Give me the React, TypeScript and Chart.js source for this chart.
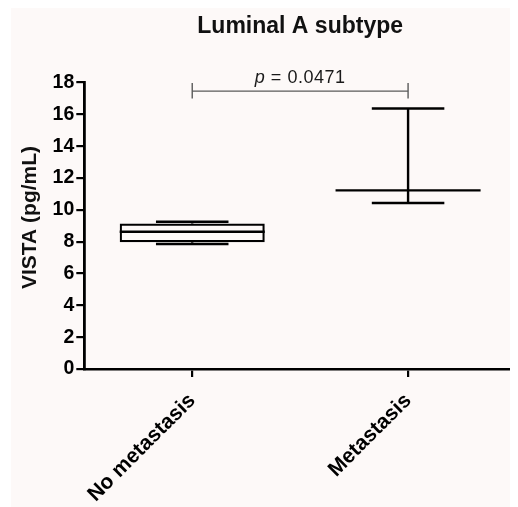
import React, { useEffect, useRef } from "react";
import { Chart, registerables } from "chart.js";

Chart.register(...registerables);

const categories = ["No metastasis", "Metastasis"];
const whiskerMin = [7.85, 10.43];
const boxQ1 = [7.96, 11.22];
const medians = [8.62, 11.22];
const boxQ3 = [9.14, 11.22];
const whiskerMax = [9.25, 16.37];
const yMin = 0;
const yMax = 18;
const yStep = 2;
const chartTitle = "Luminal A subtype";
const yAxisTitle = "VISTA (pg/mL)";
const pLabel = "p";
const pValueText = " = 0.0471";
const bracketLevel = 17.46;
const bracketPair = [0, 1];

const FONT = "'Liberation Sans', Arial, Helvetica, sans-serif";

const boxPlugin = {
  id: "boxOverlay",
  afterDatasetsDraw(chart: any) {
    const { ctx } = chart;
    const x = chart.scales.x;
    const y = chart.scales.y;
    const meta = chart.getDatasetMeta(0);
    const line = (x1: number, y1: number, x2: number, y2: number) => {
      ctx.beginPath();
      ctx.moveTo(x1, y1);
      ctx.lineTo(x2, y2);
      ctx.stroke();
    };
    ctx.save();
    ctx.strokeStyle = "#000";
    ctx.lineCap = "butt";
    categories.forEach((_, i) => {
      const cx = x.getPixelForValue(i);
      const half = meta.data[i].width / 2;
      const capHalf = half / 2;
      ctx.lineWidth = 2.4;
      line(cx - half, y.getPixelForValue(medians[i]), cx + half, y.getPixelForValue(medians[i]));
      line(cx, y.getPixelForValue(boxQ3[i]), cx, y.getPixelForValue(whiskerMax[i]));
      line(cx, y.getPixelForValue(boxQ1[i]), cx, y.getPixelForValue(whiskerMin[i]));
      ctx.lineWidth = 2.6;
      line(cx - capHalf, y.getPixelForValue(whiskerMax[i]), cx + capHalf, y.getPixelForValue(whiskerMax[i]));
      line(cx - capHalf, y.getPixelForValue(whiskerMin[i]), cx + capHalf, y.getPixelForValue(whiskerMin[i]));
    });

    // significance bracket
    const bx1 = x.getPixelForValue(bracketPair[0]);
    const bx2 = x.getPixelForValue(bracketPair[1]);
    const by = y.getPixelForValue(bracketLevel);
    ctx.strokeStyle = "#5a5a5a";
    ctx.lineWidth = 1.4;
    line(bx1, by, bx2, by);
    line(bx1, by - 8, bx1, by + 7.5);
    line(bx2, by - 8, bx2, by + 7.5);

    ctx.fillStyle = "#1a1a1a";
    ctx.textBaseline = "alphabetic";
    ctx.textAlign = "left";
    (ctx as any).letterSpacing = "0.5px";
    ctx.font = `italic 18px ${FONT}`;
    const pW = ctx.measureText(pLabel).width;
    ctx.font = `18px ${FONT}`;
    const rW = ctx.measureText(pValueText).width;
    const start = (bx1 + bx2) / 2 - (pW + rW) / 2;
    ctx.font = `italic 18px ${FONT}`;
    ctx.fillText(pLabel, start, by - 8.3);
    ctx.font = `18px ${FONT}`;
    ctx.fillText(pValueText, start + pW, by - 8.3);
    ctx.restore();
  },
  afterDraw(chart: any) {
    const { ctx, chartArea } = chart;
    ctx.save();
    ctx.fillStyle = "#111";
    ctx.textAlign = "center";
    ctx.textBaseline = "alphabetic";
    ctx.font = `bold 23px ${FONT}`;
    ctx.fillText(chartTitle, (chartArea.left + chartArea.right) / 2, 24.5);
    ctx.translate(25, 209.5);
    ctx.rotate(-Math.PI / 2);
    ctx.font = `bold 21px ${FONT}`;
    ctx.fillText(yAxisTitle, 0, 0);
    ctx.restore();
  },
};

export default function App() {
  const ref = useRef<HTMLCanvasElement | null>(null);

  useEffect(() => {
    if (!ref.current) return;
    const chart = new Chart(ref.current, {
      type: "bar",
      data: {
        labels: categories,
        datasets: [
          {
            data: categories.map((_, i) => [boxQ1[i], boxQ3[i]]) as any,
            backgroundColor: "rgba(0,0,0,0)",
            borderColor: "#000",
            borderWidth: 2.2,
            borderSkipped: false,
            barPercentage: 0.672,
            categoryPercentage: 1,
          },
        ],
      },
      options: {
        animation: false,
        responsive: false,
        devicePixelRatio: 1,
        layout: { padding: { top: 74.5, right: 2, left: 0, bottom: 0 } },
        plugins: {
          legend: { display: false },
          tooltip: { enabled: false },
          title: { display: false },
        },
        scales: {
          x: {
            offset: true,
            border: { display: true, color: "#000", width: 2.6 },
            grid: {
              offset: false,
              drawOnChartArea: false,
              drawTicks: true,
              tickLength: 8,
              color: "#000",
              lineWidth: 2.2,
            },
            ticks: {
              autoSkip: false,
              minRotation: 45,
              maxRotation: 45,
              padding: 11.5,
              color: "#000",
              font: { family: FONT, size: 21, weight: "bold" },
            },
            afterFit: (s: any) => {
              s.height = 138;
              s.paddingLeft = 0;
              s.paddingRight = 0;
            },
          },
          y: {
            min: yMin,
            max: yMax,
            border: { display: true, color: "#000", width: 2.8 },
            grid: {
              drawOnChartArea: false,
              drawTicks: true,
              tickLength: 8,
              color: "#000",
              lineWidth: 2.2,
            },
            ticks: {
              stepSize: yStep,
              padding: 2,
              color: "#000",
              font: { family: FONT, size: 19.5, weight: "bold" },
            },
            afterFit: (s: any) => {
              s.width = 73.3;
              s.paddingTop = 0;
              s.paddingBottom = 0;
            },
          },
        },
      },
      plugins: [boxPlugin],
    });
    return () => chart.destroy();
  }, []);

  return (
    <div style={{ marginLeft: 3, width: 507, height: 499, background: "#fdf9f8" }}>
      <canvas ref={ref} width={507} height={499} style={{ display: "block", width: 507, height: 499 }} />
    </div>
  );
}
